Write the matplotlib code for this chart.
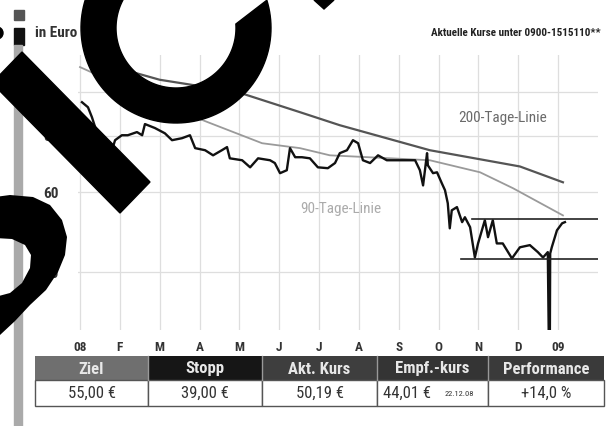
import numpy as np
import matplotlib
matplotlib.use('Agg')
import matplotlib.pyplot as plt
from matplotlib.patches import Rectangle, Polygon, Circle, PathPatch
from matplotlib.path import Path
from matplotlib.transforms import Affine2D

plt.rcParams['font.family'] = ['Roboto Condensed', 'Roboto', 'DejaVu Sans']

# ---------------- data ----------------
month_labels = ['08', 'F', 'M', 'A', 'M', 'J', 'J', 'A', 'S', 'O', 'N', 'D', '09']
month_pos = list(range(13))          # months since Jan 2008
ytick_vals = [40, 60, 80, 100]
ytick_labels = ['40', '60', '80', '100']

price_t = [0.05, 0.20, 0.30, 0.43, 0.50, 0.63, 0.75, 0.88, 1.05, 1.20, 1.43, 1.56, 1.63,
           1.88, 2.13, 2.31, 2.56, 2.76, 2.89, 3.14, 3.34, 3.56, 3.69, 3.76, 4.07, 4.27,
           4.47, 4.77, 4.89, 5.02, 5.19, 5.27, 5.40, 5.57, 5.77, 5.97, 6.22, 6.40, 6.52,
           6.70, 6.85, 6.98, 7.10, 7.28, 7.48, 7.70, 7.95, 8.21, 8.41, 8.53, 8.61, 8.71,
           8.73, 8.86, 8.96, 9.08, 9.16, 9.23, 9.28, 9.33, 9.46, 9.59, 9.66, 9.79, 9.91,
           9.99, 10.16, 10.24, 10.36, 10.46, 10.61, 10.84, 11.04, 11.29, 11.49, 11.62,
           11.74, 11.785, 11.80, 11.84, 11.97, 12.10, 12.17]
price_v = [95.0, 92.6, 88.0, 81.1, 74.4, 67.9, 71.8, 78.3, 80.3, 80.3, 81.6, 80.3, 85.0,
           83.3, 81.1, 78.3, 79.1, 80.3, 75.2, 74.4, 72.5, 74.4, 75.6, 71.4, 70.7, 68.2,
           71.4, 70.7, 69.7, 66.2, 67.2, 75.2, 71.8, 71.8, 71.4, 68.2, 67.9, 69.7, 73.3,
           74.4, 78.3, 77.1, 70.7, 69.7, 72.5, 70.7, 70.7, 70.7, 70.7, 67.2, 62.2, 73.3,
           68.9, 66.2, 66.5, 62.9, 60.7, 56.8, 50.0, 54.8, 55.7, 51.6, 52.9, 50.3, 43.1,
           46.3, 52.1, 47.8, 52.1, 46.3, 46.3, 42.9, 45.4, 45.9, 44.3, 43.1,
           44.3, 20.0, 44.0, 45.4, 49.5, 51.3, 51.6]

ma200_t = [0.25, 2.0, 3.96, 5.52, 6.52, 8.78, 11.04, 12.12]
ma200_v = [117.7, 106.5, 100.0, 90.3, 84.5, 74.4, 68.5, 63.2]

ma90_t = [0.0, 1.0, 2.0, 3.21, 4.57, 5.52, 6.27, 8.78, 10.04, 10.87, 12.12]
ma90_v = [113.6, 103.6, 94.6, 85.8, 77.1, 75.2, 72.5, 70.7, 66.5, 61.3, 53.4]

resist_level, resist_start = 52.3, 9.85
support_level, support_start = 42.7, 9.55

headers = ['Ziel', 'Stopp', 'Akt. Kurs', 'Empf.-kurs', 'Performance']
values = ['55,00 €', '39,00 €', '50,19 €', '44,01 €', '+14,0 %']
header_colors = ['#6f6f6f', '#161616', '#3e3e3e', '#343434', '#3a3a3a']
empf_date = '22.12.08'

# ---------------- figure ----------------
W, H = 608, 426
fig = plt.figure(figsize=(W / 100, H / 100), dpi=100)
pix = Affine2D().scale(1 / W, -1 / H).translate(0, 1) + fig.transFigure

ax_l, ax_r, ax_t, ax_b = 78, 598, 55, 330
ax = fig.add_axes([ax_l / W, 1 - ax_b / H, (ax_r - ax_l) / W, (ax_b - ax_t) / H])
ax.set_yscale('log')
ax.set_xlim(-0.05, 13.0)
ax.set_ylim(29.8, 120.8)
for s in ax.spines.values():
    s.set_visible(False)
ax.set_yticks(ytick_vals)
ax.set_yticklabels(ytick_labels)
ax.yaxis.set_minor_locator(matplotlib.ticker.NullLocator())
ax.set_xticks(month_pos)
ax.set_xticklabels(month_labels)
ax.tick_params(axis='y', length=0, colors='#333333', labelsize=11, pad=14)
ax.tick_params(axis='x', length=0, colors='#333333', labelsize=9.5, pad=8)
for lab in ax.get_xticklabels() + ax.get_yticklabels():
    lab.set_fontweight('bold')
ax.grid(True, color='#dedede', lw=0.9)
ax.set_axisbelow(True)

ax.plot(ma200_t, ma200_v, color='#555555', lw=1.6)
ax.plot(ma90_t, ma90_v, color='#9a9a9a', lw=1.3)
ax.plot(price_t, price_v, color='#111111', lw=1.7)
ax.plot([resist_start, 13.0], [resist_level, resist_level], color='#222222', lw=1.2)
ax.plot([support_start, 13.0], [support_level, support_level], color='#222222', lw=1.2)

ax.text(10.61, 87.6, '200-Tage-Linie', color='#6a6a6a', fontsize=11, ha='center', va='center')
ax.text(6.55, 55.1, '90-Tage-Linie', color='#ababab', fontsize=11, ha='center', va='center')

# ---------------- header texts and left strip ----------------
fig.add_artist(Rectangle((14, 10), 10, 10, color='#555555', transform=pix))
fig.add_artist(Rectangle((14, 28), 10, 17, color='#111111', transform=pix))
fig.add_artist(Rectangle((14, 45), 8, H - 45, color='#aaaaaa', transform=pix))
fig.text(35, 33, 'in Euro', transform=pix, fontsize=11, fontweight='bold',
         color='#333333', ha='left', va='center')
fig.text(601, 33, 'Aktuelle Kurse unter 0900-1515110**', transform=pix, fontsize=8,
         fontweight='bold', color='#222222', ha='right', va='center')

# ---------------- table ----------------
edges = [35, 148, 262, 377, 488, 604]
hy0, hy1, vy1 = 356, 380, 406
for i in range(5):
    x0, x1 = edges[i], edges[i + 1]
    fig.add_artist(Rectangle((x0, hy0), x1 - x0, hy1 - hy0, facecolor=header_colors[i],
                             edgecolor='none', transform=pix))
    fig.text((x0 + x1) / 2, (hy0 + hy1) / 2 + 1, headers[i], transform=pix, fontsize=12,
             fontweight='bold', color='#e8e8e8', ha='center', va='center')
    fig.add_artist(Rectangle((x0, hy1), x1 - x0, vy1 - hy1, facecolor='white',
                             edgecolor='#555555', lw=1.0, transform=pix))
    if i == 3:
        fig.text(x0 + 30, (hy1 + vy1) / 2, values[i], transform=pix, fontsize=12,
                 color='#333333', ha='center', va='center')
        fig.text(x0 + 82, (hy1 + vy1) / 2 + 1, empf_date, transform=pix, fontsize=6,
                 color='#333333', ha='center', va='center')
    else:
        fig.text((x0 + x1) / 2, (hy1 + vy1) / 2, values[i], transform=pix, fontsize=12,
                 color='#333333', ha='center', va='center')
for xe in edges[1:-1]:
    fig.add_artist(plt.Line2D([xe, xe], [hy0, hy1], color='#999999', lw=1.0, transform=pix))

# ---------------- black overlay shapes ----------------
ov = '#000000'
cx, cy, R, r = 176, 28, 95, 60
a_out = np.radians(np.linspace(-17, 270, 120))
a_in = np.radians(np.linspace(270, -3.8, 120))
ring = ([(cx + R * np.cos(a), cy + R * np.sin(a)) for a in a_out] +
        [(cx + r * np.cos(a), cy + r * np.sin(a)) for a in a_in])
fig.add_artist(Polygon(ring, closed=True, color=ov, transform=pix, zorder=20))
fig.add_artist(Polygon([(22, 52), (150, 182), (120, 213), (-8, 83)], closed=True,
                       color=ov, transform=pix, zorder=20))
outer = [(-5, 197), (10, 195), (33, 197), (50, 205), (62, 220), (67, 237), (65, 255),
         (58, 272), (46, 290), (30, 305), (15, 321), (0, 335), (-5, 338)]
inner = [(-5, 297), (10, 293), (22, 283), (30, 268), (31, 255), (25, 245), (12, 239),
         (-5, 238)]
verts = outer + [outer[0]] + inner + [inner[0]]
codes = ([Path.MOVETO] + [Path.LINETO] * (len(outer) - 1) + [Path.CLOSEPOLY] +
         [Path.MOVETO] + [Path.LINETO] * (len(inner) - 1) + [Path.CLOSEPOLY])
fig.add_artist(PathPatch(Path(verts, codes), facecolor=ov, edgecolor='none',
                         transform=pix, zorder=20))
fig.add_artist(Polygon([(314, 0), (334, 0), (324, 9)], closed=True, color=ov,
                       transform=pix, zorder=20))
fig.add_artist(Circle((-3, 33), 6, color=ov, transform=pix, zorder=20))

fig.savefig('out.png', dpi=100)
